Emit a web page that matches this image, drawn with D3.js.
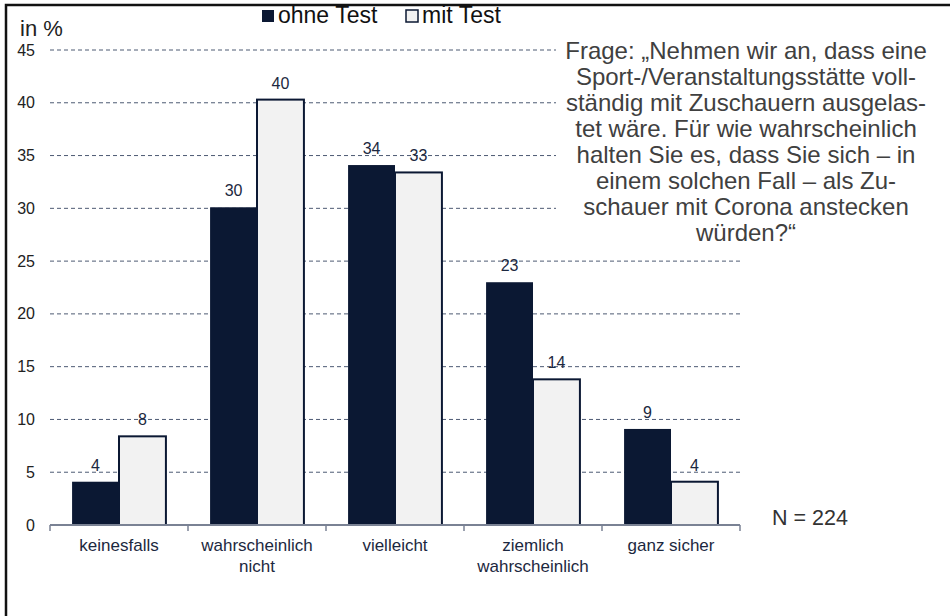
<!DOCTYPE html>
<html>
<head>
<meta charset="utf-8">
<script src="https://cdn.jsdelivr.net/npm/d3@7"></script>
<style>
  body { margin: 0; background: #fff; }
  svg { font-family: Arial, "Liberation Sans", sans-serif; display: block; }
</style>
</head>
<body>
<div id="chart"></div>
<script>
// data
const categories = ["keinesfalls", "wahrscheinlich nicht", "vielleicht", "ziemlich wahrscheinlich", "ganz sicher"];
const categoryLines = [["keinesfalls"], ["wahrscheinlich", "nicht"], ["vielleicht"], ["ziemlich", "wahrscheinlich"], ["ganz sicher"]];
const seriesNames = ["ohne Test", "mit Test"];
const ohneTest = [4.1, 30.1, 34.1, 23.0, 9.1];
const mitTest = [8.4, 40.3, 33.4, 13.8, 4.1];
const yTicks = [0, 5, 10, 15, 20, 25, 30, 35, 40, 45];
const questionLines = [
  "Frage: „Nehmen wir an, dass eine",
  "Sport-/Veranstaltungsstätte voll-",
  "ständig mit Zuschauern ausgelas-",
  "tet wäre. Für wie wahrscheinlich",
  "halten Sie es, dass Sie sich – in",
  "einem solchen Fall – als Zu-",
  "schauer mit Corona anstecken",
  "würden?“"
];
const sampleNote = "N = 224";

const width = 950, height = 616;
const dark = "#0b1833", light = "#f2f2f2", navyText = "#1c2840";

const svg = d3.select("#chart").append("svg")
  .attr("width", width)
  .attr("height", height);

// frame (only left + top visible in the original)
svg.append("rect")
  .attr("x", 6).attr("y", 5)
  .attr("width", 1000).attr("height", 700)
  .attr("fill", "none")
  .attr("stroke", "#111")
  .attr("stroke-width", 2.5);

const x0 = d3.scaleBand()
  .domain(categories)
  .range([50, 740])
  .paddingInner(0.32)
  .paddingOuter(0.16);

const x1 = d3.scaleBand()
  .domain(seriesNames)
  .range([0, x0.bandwidth()]);

const y = d3.scaleLinear()
  .domain([0, 45])
  .range([525, 50]);

const color = d3.scaleOrdinal().domain(seriesNames).range([dark, light]);

// gridlines
svg.append("g")
  .selectAll("line")
  .data(yTicks.filter(d => d > 0))
  .enter()
  .append("line")
  .attr("x1", 50).attr("x2", 740)
  .attr("y1", d => y(d)).attr("y2", d => y(d))
  .attr("stroke", "#4d5a73")
  .attr("stroke-width", 1)
  .attr("stroke-dasharray", "4,3");

// y labels
svg.append("g")
  .selectAll("text")
  .data(yTicks)
  .enter()
  .append("text")
  .attr("x", 35)
  .attr("y", d => y(d))
  .attr("dy", "0.35em")
  .attr("text-anchor", "end")
  .attr("font-size", 16)
  .attr("fill", "#222")
  .text(d => d);

svg.append("text")
  .attr("x", 20).attr("y", 36)
  .attr("font-size", 22)
  .attr("fill", "#222")
  .text("in %");

// question box (covers grid lines)
svg.append("rect")
  .attr("x", 556).attr("y", 36)
  .attr("width", 390).attr("height", 214)
  .attr("fill", "#fff");

svg.append("text")
  .attr("font-size", 24)
  .attr("fill", "#404040")
  .attr("text-anchor", "middle")
  .selectAll("tspan")
  .data(questionLines)
  .enter()
  .append("tspan")
  .attr("x", 746)
  .attr("y", (d, i) => 59 + i * 26)
  .text(d => d);

svg.append("text")
  .attr("x", 810).attr("y", 525)
  .attr("text-anchor", "middle")
  .attr("font-size", 21.5)
  .attr("fill", "#333")
  .text(sampleNote);

// bars
const rows = categories.map((c, i) => ({
  cat: c,
  vals: [
    { key: seriesNames[0], value: ohneTest[i] },
    { key: seriesNames[1], value: mitTest[i] }
  ]
}));

const groups = svg.append("g")
  .selectAll("g")
  .data(rows)
  .enter()
  .append("g")
  .attr("transform", d => `translate(${x0(d.cat)},0)`);

groups.selectAll("rect")
  .data(d => d.vals)
  .enter()
  .append("rect")
  .attr("x", d => x1(d.key))
  .attr("y", d => y(d.value))
  .attr("width", x1.bandwidth())
  .attr("height", d => y(0) - y(d.value))
  .attr("fill", d => color(d.key))
  .attr("stroke", dark)
  .attr("stroke-width", d => d.key === seriesNames[1] ? 2 : 0);

groups.selectAll("text")
  .data(d => d.vals)
  .enter()
  .append("text")
  .attr("x", d => x1(d.key) + x1.bandwidth() / 2)
  .attr("y", d => y(d.value) - 11)
  .attr("text-anchor", "middle")
  .attr("font-size", 16)
  .attr("fill", navyText)
  .text(d => d3.format(".0f")(d.value));

// x axis
const axis = svg.append("g");
axis.append("line")
  .attr("x1", 50).attr("x2", 740)
  .attr("y1", y(0)).attr("y2", y(0))
  .attr("stroke", "#7a8294")
  .attr("stroke-width", 2);

const tickXs = categories.map((c, i) => 50 + i * x0.step()).concat([740]);
axis.selectAll("line.tick")
  .data(tickXs)
  .enter()
  .append("line")
  .attr("class", "tick")
  .attr("x1", d => d).attr("x2", d => d)
  .attr("y1", y(0)).attr("y2", y(0) + 6)
  .attr("stroke", "#7a8294")
  .attr("stroke-width", 1.5);

axis.selectAll("text")
  .data(categories)
  .enter()
  .append("text")
  .attr("text-anchor", "middle")
  .attr("font-size", 17)
  .attr("fill", navyText)
  .each(function(d, i) {
    d3.select(this).selectAll("tspan")
      .data(categoryLines[i])
      .enter()
      .append("tspan")
      .attr("x", x0(d) + x0.bandwidth() / 2)
      .attr("y", (t, j) => 551 + j * 21)
      .text(t => t);
  });

// legend
const legend = svg.append("g");
const legendItems = [
  { key: seriesNames[0], sx: 262 },
  { key: seriesNames[1], sx: 406 }
];
legend.selectAll("rect")
  .data(legendItems)
  .enter()
  .append("rect")
  .attr("x", d => d.sx).attr("y", 10)
  .attr("width", 12).attr("height", 12)
  .attr("fill", d => color(d.key))
  .attr("stroke", dark)
  .attr("stroke-width", d => d.key === seriesNames[1] ? 1.5 : 0);
legend.selectAll("text")
  .data(legendItems)
  .enter()
  .append("text")
  .attr("x", d => d.sx + 16).attr("y", 23)
  .attr("font-size", 23)
  .attr("fill", "#111")
  .text(d => d.key);
</script>
</body>
</html>
